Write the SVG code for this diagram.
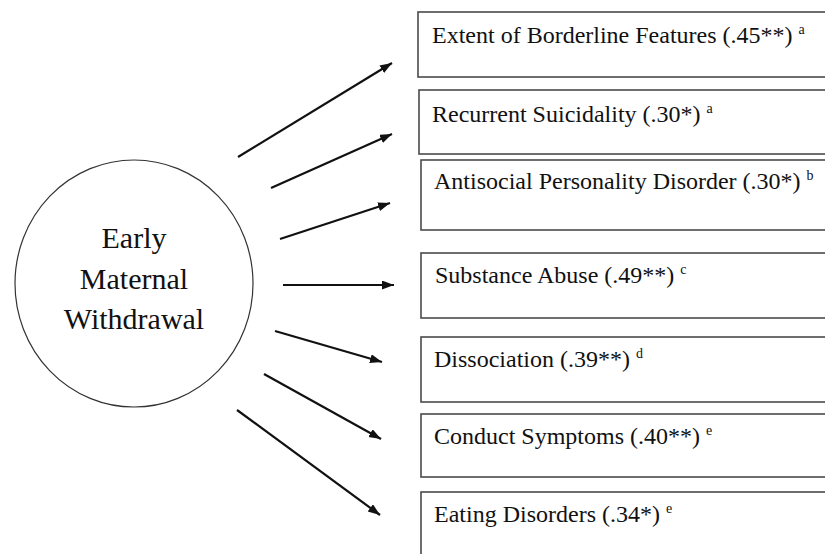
<svg xmlns="http://www.w3.org/2000/svg" width="825" height="554" viewBox="0 0 825 554">
<style>
.box{fill:#fff;stroke:#4a4a4a;stroke-width:1.6}
.lbl{font-size:24px;fill:#111}
.sup{font-size:14px}
.ctr{font-size:30px;fill:#111;text-anchor:middle}
.arr{stroke:#111;stroke-width:2.2;fill:none;marker-end:url(#ah)}
</style>
<defs>
<marker id="ah" markerUnits="userSpaceOnUse" markerWidth="13" markerHeight="10" refX="12" refY="4.5" orient="auto">
<path d="M0,0 L12,4.5 L0,9 z" fill="#111"/>
</marker>
</defs>
<rect width="825" height="554" fill="#fff"/>
<g font-family="Liberation Serif, Tinos, Times New Roman, DejaVu Serif, serif">
<g id="node-withdrawal">
<ellipse cx="134" cy="283.5" rx="119" ry="123.5" fill="#fff" stroke="#333" stroke-width="1.2"/>
<text class="ctr" x="134" y="248">Early</text>
<text class="ctr" x="134" y="289">Maternal</text>
<text class="ctr" x="134" y="329">Withdrawal</text>
</g>
<g id="node-borderline">
<rect class="box" x="418" y="12" width="420" height="65"/>
<text class="lbl" x="432" y="43">Extent of Borderline Features (.45**) <tspan class="sup" dy="-9">a</tspan></text>
</g>
<g id="node-suicidality">
<rect class="box" x="419" y="90" width="420" height="64"/>
<text class="lbl" x="432" y="122">Recurrent Suicidality (.30*) <tspan class="sup" dy="-9">a</tspan></text>
</g>
<g id="node-antisocial">
<rect class="box" x="421" y="160" width="420" height="70"/>
<text class="lbl" x="434" y="189">Antisocial Personality Disorder (.30*) <tspan class="sup" dy="-9">b</tspan></text>
</g>
<g id="node-substance">
<rect class="box" x="421" y="253" width="420" height="65"/>
<text class="lbl" x="435" y="283">Substance Abuse (.49**) <tspan class="sup" dy="-9">c</tspan></text>
</g>
<g id="node-dissociation">
<rect class="box" x="421" y="337" width="420" height="65"/>
<text class="lbl" x="434" y="367">Dissociation (.39**) <tspan class="sup" dy="-9">d</tspan></text>
</g>
<g id="node-conduct">
<rect class="box" x="421" y="414" width="420" height="63"/>
<text class="lbl" x="434" y="444">Conduct Symptoms (.40**) <tspan class="sup" dy="-9">e</tspan></text>
</g>
<g id="node-eating">
<rect class="box" x="421" y="492" width="420" height="80"/>
<text class="lbl" x="434" y="522">Eating Disorders (.34*) <tspan class="sup" dy="-9">e</tspan></text>
</g>
</g>
<g id="connectors">
<line class="arr" x1="238" y1="157" x2="392" y2="63"/>
<line class="arr" x1="271" y1="188" x2="392" y2="134"/>
<line class="arr" x1="280" y1="239" x2="390" y2="203"/>
<line class="arr" x1="283" y1="285" x2="394" y2="285"/>
<line class="arr" x1="275" y1="331" x2="382" y2="362"/>
<line class="arr" x1="264" y1="374" x2="381" y2="439"/>
<line class="arr" x1="237" y1="410" x2="380" y2="515"/>
</g>
</svg>
